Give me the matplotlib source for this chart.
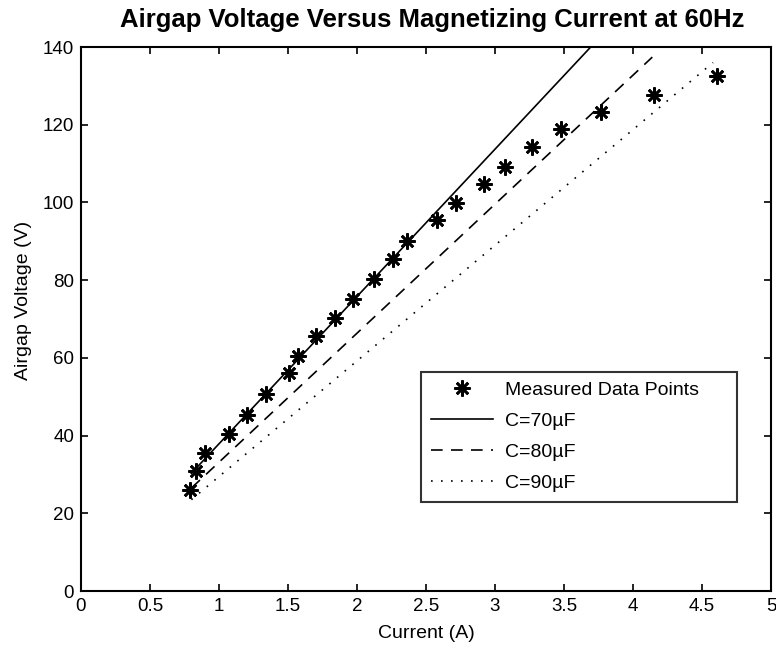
import matplotlib
matplotlib.use("Agg")
import matplotlib.pyplot as plt

plt.rcParams['font.family'] = ['Liberation Sans', 'DejaVu Sans']

# Measured data
current_meas = [0.79, 0.83, 0.90, 1.07, 1.20, 1.34, 1.51, 1.57, 1.70, 1.84, 1.97,
                2.12, 2.26, 2.36, 2.58, 2.72, 2.92, 3.07, 3.27, 3.48, 3.77, 4.15, 4.61]
voltage_meas = [26.0, 30.9, 35.5, 40.4, 45.4, 50.6, 56.0, 60.6, 65.5, 70.3, 75.2,
                80.2, 85.5, 90.0, 95.6, 99.8, 104.7, 109.1, 114.3, 118.9, 123.3, 127.6, 132.5]

# Model lines (end points)
current_70 = [0.80, 3.72]
voltage_70 = [30.3, 141.0]
current_80 = [0.80, 4.14]
voltage_80 = [26.5, 137.4]
current_90 = [0.80, 4.58]
voltage_90 = [23.5, 136.0]

labels = ['Measured Data Points', 'C=70\u00b5F', 'C=80\u00b5F', 'C=90\u00b5F']
xticks = [0, 0.5, 1, 1.5, 2, 2.5, 3, 3.5, 4, 4.5, 5]
xticklabels = ['0', '0.5', '1', '1.5', '2', '2.5', '3', '3.5', '4', '4.5', '5']
yticks = [0, 20, 40, 60, 80, 100, 120, 140]

fig = plt.figure(figsize=(7.76, 6.48), dpi=100)
ax = fig.add_axes([81/776, 1 - 591/648, 690/776, 544/648])

ax.plot(current_meas, voltage_meas, linestyle='none', marker=(8, 2, 0),
        markersize=11.5, markeredgewidth=1.9, color='black', label=labels[0])
ax.plot(current_70, voltage_70, '-', color='black', linewidth=1.2, label=labels[1])
ax.plot(current_80, voltage_80, color='black', linewidth=1.2,
        linestyle=(0, (7, 5)), label=labels[2])
ax.plot(current_90, voltage_90, color='black', linewidth=1.2,
        linestyle=(0, (1, 5)), label=labels[3])

ax.set_xlim(0, 5)
ax.set_ylim(0, 140)
ax.set_xticks(xticks)
ax.set_xticklabels(xticklabels)
ax.set_yticks(yticks)
ax.tick_params(direction='in', top=True, right=True, length=5, width=1.2,
               labelsize=13.5, pad=5)
for s in ax.spines.values():
    s.set_linewidth(1.5)

fig.text(432/776, 1 - 20/648, 'Airgap Voltage Versus Magnetizing Current at 60Hz',
         fontsize=18.5, fontweight='bold', ha='center', va='center')
ax.set_xlabel('Current (A)', fontsize=14)
ax.xaxis.set_label_coords(0.5, -(633 - 591) / 544)
ax.xaxis.label.set_va('center')
ax.set_ylabel('Airgap Voltage (V)', fontsize=14)
ax.yaxis.set_label_coords(-(81 - 23) / 690, (591 - 300) / 544)
ax.yaxis.label.set_va('center')

leg = ax.legend(loc='lower left',
                bbox_to_anchor=((421 - 81) / 690, (591 - 502) / 544,
                                (737 - 421) / 690, (502 - 369) / 544),
                mode='expand', fontsize=14, frameon=True, fancybox=False,
                edgecolor='black', handlelength=3.2, borderpad=0.5,
                labelspacing=0.69, handletextpad=0.6, borderaxespad=0)
leg.get_frame().set_linewidth(1.5)

fig.savefig('out.png', dpi=100)
